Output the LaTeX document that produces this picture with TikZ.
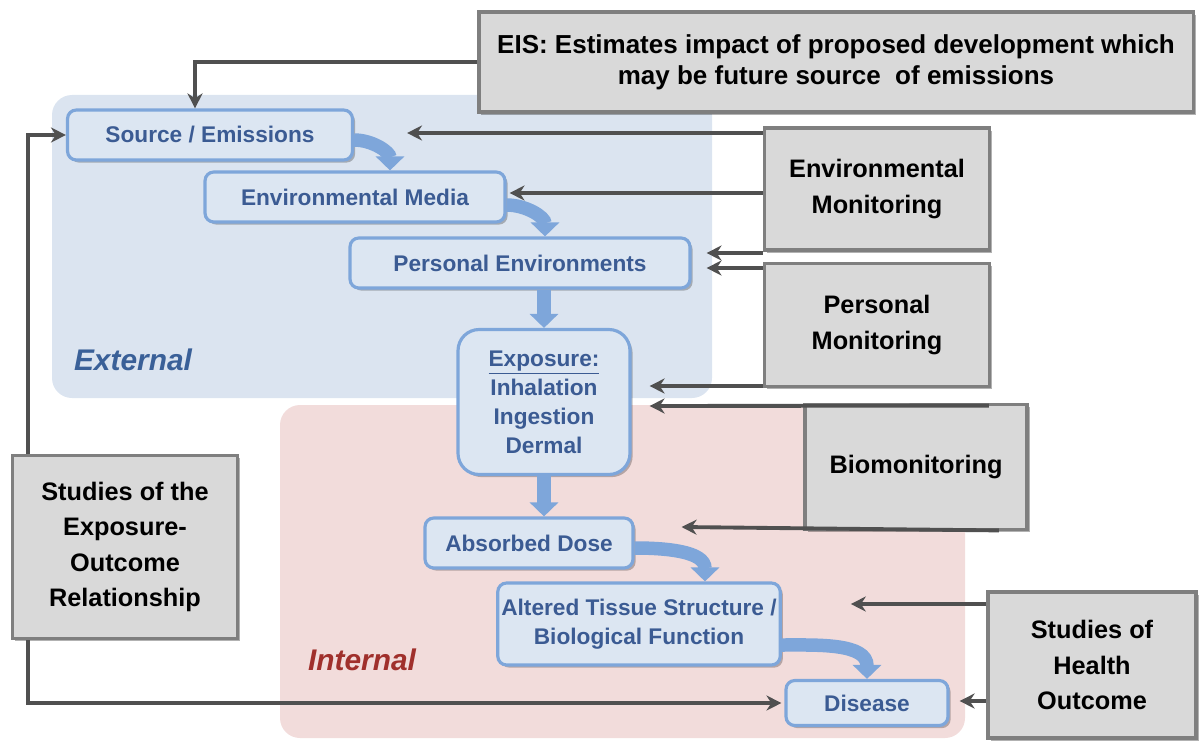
\documentclass[tikz,border=0pt]{standalone}
\usepackage{fontspec}
\setmainfont{Liberation Sans}
\usepackage{tikz}
\usetikzlibrary{arrows.meta,positioning,calc,shadows}
\definecolor{extbg}{HTML}{DBE4F0}
\definecolor{intbg}{HTML}{F2DCDB}
\definecolor{stagefill}{HTML}{DCE6F2}
\definecolor{stageline}{HTML}{7EA6DA}
\definecolor{stagetext}{HTML}{3B5B93}
\definecolor{monfill}{HTML}{D9D9D9}
\definecolor{monline}{HTML}{7F7F7F}
\definecolor{conn}{HTML}{505050}
\definecolor{exttext}{HTML}{3A6098}
\definecolor{inttext}{HTML}{A0302C}
\tikzset{
  stage/.style={draw=stageline, line width=1.8pt, fill=stagefill, rounded corners=5pt, align=center,
    text=stagetext, font=\bfseries\fontsize{12.9}{16.5}\selectfont, inner sep=2pt,
    drop shadow={shadow xshift=1.5pt, shadow yshift=-1.5pt, fill=black, opacity=0.25}},
  mon/.style={draw=monline, line width=2.2pt, fill=monfill, align=center, inner sep=2pt,
    font=\bfseries\fontsize{14.4}{20}\selectfont,
    drop shadow={shadow xshift=1.5pt, shadow yshift=-1.5pt, fill=black, opacity=0.3}},
  flow/.style={stageline, line width=0.27cm, -{Triangle[width=0.56cm,length=0.28cm]}},
  link/.style={conn, line width=2.2pt, -{Stealth[length=3mm,width=3mm]}},
  zone/.style={font=\bfseries\itshape\fontsize{17}{20}\selectfont}}
\begin{document}
\begin{tikzpicture}[x=0.02cm, y=-0.02cm]
  \useasboundingbox (0,0) rectangle (1199,740);
  \fill[extbg, rounded corners=0.4cm] (52,95) rectangle (712,398);
  \fill[intbg, rounded corners=0.4cm] (280,405) rectangle (965,738);
  \node[zone, text=exttext] (ext) at (133,360) {External};
  \node[zone, text=inttext] (int) at (362,660) {Internal};

  \node[stage, minimum width=5.7cm, minimum height=1cm] (src) at (210,135) {Source / Emissions};
  \node[stage, minimum width=6cm, minimum height=1cm] (media) at (355,197) {Environmental Media};
  \node[stage, minimum width=6.8cm, minimum height=1cm] (penv) at (520,263) {Personal Environments};
  \node[stage, rounded corners=12pt, minimum width=3.44cm, minimum height=2.9cm] (expo) at (544,402)
    {\underline{Exposure:}\\Inhalation\\Ingestion\\Dermal};
  \node[stage, minimum width=4.16cm, minimum height=1cm] (dose) at (529,543) {Absorbed Dose};
  \node[stage, minimum width=5.48cm, minimum height=1.64cm] (tissue) at (639,624)
    {Altered Tissue Structure /\\Biological Function};
  \node[stage, minimum width=3.24cm, minimum height=0.9cm] (disease) at (867,703) {Disease};

  \node[mon, font=\bfseries\fontsize{14.8}{17.6}\selectfont, minimum width=14.3cm, minimum height=2cm] (eis) at (836,62)
    {EIS: Estimates impact of proposed development which\\may be future source\ \ of emissions};
  \node[mon, minimum width=4.5cm, minimum height=2.44cm] (envmon) at (877,189) {Environmental\\Monitoring};
  \node[mon, minimum width=4.5cm, minimum height=2.46cm] (permon) at (877,325) {Personal\\Monitoring};
  \node[mon, minimum width=4.44cm, minimum height=2.5cm] (biomon) at (916,467) {Biomonitoring};
  \node[mon, minimum width=4.16cm, minimum height=2.92cm] (health) at (1092,665) {Studies of\\Health\\Outcome};
  \node[mon, minimum width=4.5cm, minimum height=3.66cm] (studies) at (125,547)
    {Studies of the\\Exposure-\\Outcome\\Relationship};

  \coordinate (s1) at ($(src.east)+(1.06cm,0.04cm)$);
  \coordinate (m1) at ($(media.east)+(0.06cm,0.08cm)$);
  \coordinate (p1) at ($(penv.east)+(0.3cm,0.2cm)$);
  \coordinate (p2) at ($(penv.east)+(0.3cm,-0.1cm)$);
  \coordinate (x1) at ($(expo.east)+(0.36cm,0.32cm)$);
  \coordinate (x2) at ($(expo.east)+(0.36cm,-0.08cm)$);
  \coordinate (d1) at ($(dose.east)+(0.94cm,0.32cm)$);
  \coordinate (t1) at ($(tissue.east)+(1.38cm,0.4cm)$);
  \coordinate (e1) at ($(disease.east)+(0.2cm,0.04cm)$);

  \draw[flow] ([yshift=-0.1cm]src.east) to[out=0,in=90] ([xshift=0.7cm]media.north);
  \draw[flow] ([yshift=-0.16cm]media.east) to[out=0,in=90] ([xshift=0.5cm]penv.north);
  \draw[flow] (expo.north |- penv.south) -- (expo.north);
  \draw[flow] (expo.south) -- (expo.south |- dose.north);
  \draw[flow] ([yshift=-0.1cm]dose.east) to[out=0,in=90] ([xshift=1.32cm]tissue.north);
  \draw[flow] ([yshift=-0.42cm]tissue.east) to[out=0,in=90] (disease.north);

  \draw[link] (eis.west) -| ([xshift=-0.3cm]src.north);
  \draw[link] (envmon.west |- s1) -- (s1);
  \draw[link] (envmon.west |- m1) -- (m1);
  \draw[link] (envmon.west |- p1) -- (p1);
  \draw[link] (permon.west |- p2) -- (p2);
  \draw[link] (permon.west |- x1) -- (x1);
  \draw[link] ([xshift=-0.8cm,yshift=-0.06cm]biomon.north east) -- (x2);
  \draw[link] ([xshift=-0.6cm,yshift=0.02cm]biomon.south east) -- (d1);
  \draw[link] (health.west |- t1) -- (t1);
  \draw[link] (health.west |- e1) -- (e1);
  \draw[link] ([xshift=0.34cm]studies.north west) |- (src.west);
  \draw[link] ([xshift=0.34cm]studies.south west) |- ([xshift=-0.06cm]disease.west);
\end{tikzpicture}
\end{document}
